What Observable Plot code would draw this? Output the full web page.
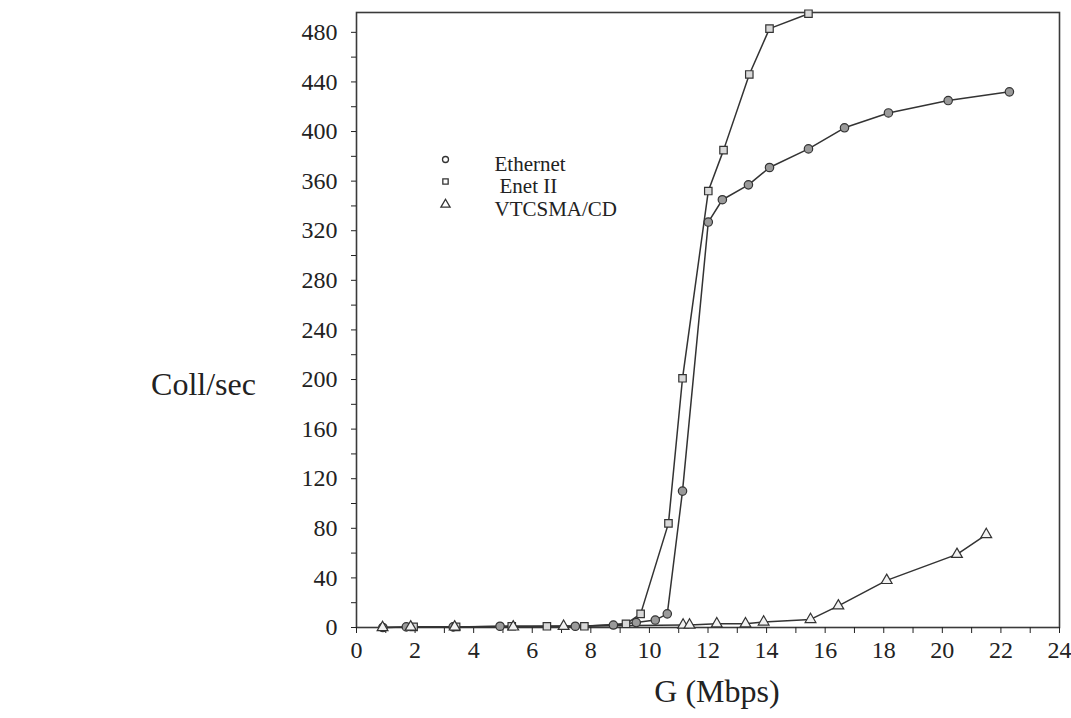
<!DOCTYPE html>
<html><head><meta charset="utf-8">
<script src="https://cdn.jsdelivr.net/npm/d3@7"></script>
<script src="https://cdn.jsdelivr.net/npm/@observablehq/plot@0.6"></script>
<style>body{margin:0;background:#fff;} #chart{width:1071px;height:718px;}</style>
</head><body><div id="chart"></div>
<script>
// --- data ---
const seriesNames = ["Ethernet", "Enet II", "VTCSMA/CD"];
const ethernetG = [0.9, 1.7, 3.3, 4.9, 7.47, 8.77, 9.55, 10.2, 10.61, 11.13, 12.01, 12.49, 13.38, 14.1, 15.43, 16.66, 18.16, 20.2, 22.29];
const ethernetC = [0, 0.5, 0.5, 1, 1, 2, 4, 6, 11, 110, 327, 345, 357, 371, 386, 403, 415, 425, 432];
const enetG = [1.95, 3.4, 5.3, 6.5, 7.78, 9.2, 9.7, 10.65, 11.13, 12.01, 12.53, 13.41, 14.1, 15.43];
const enetC = [0.5, 0.5, 1, 1, 1, 3, 11, 84, 201, 352, 385, 446, 483, 495];
const vtG = [0.89, 1.85, 3.35, 5.35, 7.07, 11.15, 11.37, 12.3, 13.28, 13.9, 15.5, 16.45, 18.1, 20.5, 21.5];
const vtC = [0, 0.5, 0.5, 0.5, 1, 2, 2, 3, 3, 4.5, 6.5, 17.5, 38, 59, 75];
const xTicks = d3.range(0, 25, 1);
const xTickLabels = [0, 2, 4, 6, 8, 10, 12, 14, 16, 18, 20, 22, 24];
const yTicks = d3.range(0, 481, 20);
const yTickLabels = [0, 40, 80, 120, 160, 200, 240, 280, 320, 360, 400, 440, 480];
const xTitle = "G (Mbps)";
const yTitle = "Coll/sec";

const FONT = "'Liberation Serif', 'Times New Roman', serif";
const toRows = (name, G, C) => G.map((g, i) => ({series: name, G: g, C: C[i]}));
const eth = toRows(seriesNames[0], ethernetG, ethernetC);
const enet = toRows(seriesNames[1], enetG, enetC);
const vt = toRows(seriesNames[2], vtG, vtC);
const rows = [...eth, ...enet, ...vt];

const symStyle = [
  {symbol: "circle", fill: "#9a9a9a", r: 4.2},
  {symbol: "square", fill: "#d8d8d8", r: 4.2},
  {symbol: "triangle", fill: "#f2f2f2", r: 4.0}
];

const legendMarks = seriesNames.flatMap((name, i) => [
  Plot.dot([name], {frameAnchor: "top-left", dx: 89, dy: [147, 169, 192][i], symbol: symStyle[i].symbol,
    r: i === 2 ? 3.4 : 3, stroke: "#333", strokeWidth: 1.3, fill: "#fff"}),
  Plot.text([name], {text: d => d, frameAnchor: "top-left", dx: [138, 143, 138][i], dy: [144, 166, 189][i],
    textAnchor: "start", fontSize: 21, fontFamily: FONT, fill: "#222"})
]);

const plot = Plot.plot({
  width: 1071, height: 718,
  marginLeft: 356, marginRight: 12, marginTop: 12, marginBottom: 91,
  style: {fontFamily: FONT, fontSize: "24px", color: "#222", background: "#fff"},
  x: {domain: [0, 24]},
  y: {domain: [0, 496]},
  marks: [
    Plot.frame({stroke: "#3a3a3a", strokeWidth: 1.6}),
    Plot.axisX({ticks: xTicks, tickSize: 6, tickPadding: 7, label: null, fontFamily: FONT, fontSize: 24,
      tickFormat: d => xTickLabels.includes(d) ? String(d) : ""}),
    Plot.axisY({ticks: yTicks, tickSize: 5, tickPadding: 14, label: null, fontFamily: FONT, fontSize: 24,
      tickFormat: d => yTickLabels.includes(d) ? String(d) : ""}),
    Plot.line(rows, {x: "G", y: "C", z: "series", stroke: "#333", strokeWidth: 1.5}),
    ...[eth, enet, vt].map((data, i) => Plot.dot(data, {x: "G", y: "C", symbol: symStyle[i].symbol,
      r: symStyle[i].r, fill: symStyle[i].fill, stroke: "#333", strokeWidth: 1.2})),
    ...legendMarks,
    Plot.text([xTitle], {text: d => d, frameAnchor: "bottom", dx: 9, dy: 74, fontSize: 32, fontFamily: FONT, textAnchor: "middle", fill: "#222"}),
    Plot.text([yTitle], {text: d => d, frameAnchor: "left", dx: -153, dy: 65, fontSize: 32, fontFamily: FONT, textAnchor: "middle", fill: "#222"})
  ]
});
document.getElementById("chart").appendChild(plot);
</script></body></html>
